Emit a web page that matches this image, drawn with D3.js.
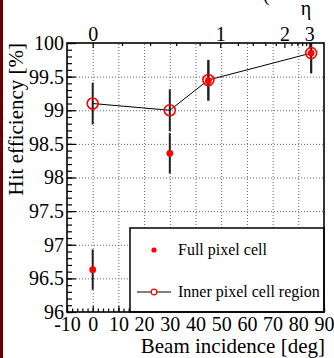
<!DOCTYPE html>
<html>
<head>
<meta charset="utf-8">
<script src="https://cdn.jsdelivr.net/npm/d3@7"></script>
<style>
  body { margin: 0; background: #fff; }
  svg { display: block; }
  text { font-family: "Liberation Serif", "Times New Roman", serif; }
</style>
</head>
<body>
<svg id="chart" width="334" height="358"></svg>
<script>
// --- data ---
const angles = [0, 30, 45, 85];                 // beam incidence [deg]
const fullCell = [96.63, 98.36, 99.44, 99.85];  // full pixel cell
const fullErr = [0.3, 0.3, 0.3, 0.3];
const innerCell = [99.1, 99.0, 99.45, 99.85];   // inner pixel cell region
const innerErr = [0.31, 0.31, 0.3, 0.3];

const xTicks = [-10, 0, 10, 20, 30, 40, 50, 60, 70, 80, 90];
const yTicks = [96, 96.5, 97, 97.5, 98, 98.5, 99, 99.5, 100];
const etaTicks = [0, 1, 2, 3];

const svg = d3.select('#chart');
const padL = 67, padR = 324, padT = 43, padB = 312;
const serif = '"Liberation Serif", "Times New Roman", serif';

const x = d3.scaleLinear().domain([-10, 90]).range([padL, padR]);
const y = d3.scaleLinear().domain([96, 100]).range([padB, padT]);

// pseudorapidity -> incidence angle (sin a = tanh eta)
const etaToAngle = e => Math.asin(Math.tanh(e)) * 180 / Math.PI;
const etaMinor = d3.range(0, 3.01, 0.2).filter(e => Math.abs(e - Math.round(e)) > 1e-6);

// dark strip on the left edge
svg.append('rect')
    .attr('x', 0).attr('y', 0)
    .attr('width', 3).attr('height', 358)
    .attr('fill', '#6b0000');

// grid
const grid = svg.append('g').attr('class', 'grid');
grid.append('g')
    .attr('transform', `translate(0,${padB})`)
    .call(d3.axisBottom(x).tickValues(xTicks.slice(1, -1)).tickSize(-(padB - padT)).tickFormat(''));
grid.append('g')
    .attr('transform', `translate(${padL},0)`)
    .call(d3.axisLeft(y).tickValues(yTicks.slice(1, -1)).tickSize(-(padR - padL)).tickFormat(''));
grid.selectAll('.domain').remove();
grid.selectAll('line')
    .attr('stroke', '#666')
    .attr('stroke-width', 1)
    .attr('stroke-dasharray', '1,2');

// axes with inward ticks
function styleAxis(g, size) {
    g.attr('font-family', serif);
    g.select('.domain').remove();
    g.selectAll('line').attr('stroke', '#000').attr('stroke-width', 1.2);
    g.selectAll('text').attr('font-size', size).attr('fill', '#000')
        .attr('font-family', serif);
}

const yMinor = d3.range(96, 100.001, 0.1);
svg.append('g')
    .attr('transform', `translate(${padL},0)`)
    .call(d3.axisLeft(y).tickValues(yMinor).tickSize(-5).tickFormat(''))
    .call(g => styleAxis(g, 20));
svg.append('g')
    .attr('transform', `translate(${padL},0)`)
    .call(d3.axisLeft(y).tickValues(yTicks).tickSize(-9).tickPadding(3).tickFormat(d => String(d)))
    .call(g => styleAxis(g, 20));

const xMinor = d3.range(-10, 90.001, 2);
const xAxisG = svg.append('g').attr('transform', `translate(0,${padB})`);
xAxisG.append('g')
    .call(d3.axisBottom(x).tickValues(xMinor).tickSize(-3.5).tickFormat(''))
    .call(g => styleAxis(g, 20));
xAxisG.append('g')
    .call(d3.axisBottom(x).tickValues(xTicks).tickSize(-6).tickPadding(5).tickFormat(d => String(d)))
    .call(g => styleAxis(g, 20));

// top eta axis
const topG = svg.append('g').attr('transform', `translate(0,${padT})`);
topG.append('g')
    .call(d3.axisTop(x).tickValues(etaMinor.map(etaToAngle)).tickSize(-3).tickFormat(''))
    .call(g => styleAxis(g, 20));
topG.append('g')
    .call(d3.axisTop(x).tickValues(etaTicks.map(etaToAngle)).tickSize(-5).tickPadding(2)
        .tickFormat((d, i) => String(etaTicks[i])))
    .call(g => styleAxis(g, 20));

// error bars
const clampY = v => y(Math.min(100, Math.max(96, v)));
const bars = svg.append('g').attr('stroke', '#222').attr('stroke-width', 2);
bars.selectAll('.eInner')
    .data(angles)
    .join('line')
    .attr('class', 'eInner')
    .attr('x1', d => x(d)).attr('x2', d => x(d))
    .attr('y1', (d, i) => clampY(innerCell[i] + innerErr[i]))
    .attr('y2', (d, i) => clampY(innerCell[i] - innerErr[i]));
bars.selectAll('.eFull')
    .data(angles)
    .join('line')
    .attr('class', 'eFull')
    .attr('x1', d => x(d)).attr('x2', d => x(d))
    .attr('y1', (d, i) => clampY(fullCell[i] + fullErr[i]))
    .attr('y2', (d, i) => clampY(fullCell[i] - fullErr[i]));

// line joining the inner-region points
const line = d3.line().x(d => x(d[0])).y(d => y(d[1]));
svg.append('path')
    .attr('d', line(angles.map((a, i) => [a, innerCell[i]])))
    .attr('fill', 'none')
    .attr('stroke', '#000')
    .attr('stroke-width', 1);

// markers
svg.append('g').selectAll('circle')
    .data(angles)
    .join('circle')
    .attr('cx', d => x(d))
    .attr('cy', (d, i) => y(fullCell[i]))
    .attr('r', 3.4)
    .attr('fill', '#ff0000');

svg.append('g').selectAll('circle')
    .data(angles)
    .join('circle')
    .attr('cx', d => x(d))
    .attr('cy', (d, i) => y(innerCell[i]))
    .attr('r', 5.5)
    .attr('fill', 'none')
    .attr('stroke', '#ff0000')
    .attr('stroke-width', 1.6);

// legend
const legend = svg.append('g');
legend.append('rect')
    .attr('x', 130).attr('y', 228)
    .attr('width', padR - 130).attr('height', padB - 228)
    .attr('fill', '#fff')
    .attr('stroke', '#000')
    .attr('stroke-width', 1.5);

const legendItems = ['Full pixel cell', 'Inner pixel cell region'];
const rowY = d3.scalePoint().domain(legendItems).range([250, 292]);

legend.append('circle')
    .attr('cx', 154).attr('cy', rowY(legendItems[0]))
    .attr('r', 2.6).attr('fill', '#ff0000');
legend.append('line')
    .attr('x1', 137).attr('x2', 171)
    .attr('y1', rowY(legendItems[1])).attr('y2', rowY(legendItems[1]))
    .attr('stroke', '#000').attr('stroke-width', 1);
legend.append('circle')
    .attr('cx', 154).attr('cy', rowY(legendItems[1]))
    .attr('r', 2.8).attr('fill', '#fff')
    .attr('stroke', '#ff0000').attr('stroke-width', 1.2);
legend.selectAll('text')
    .data(legendItems)
    .join('text')
    .attr('x', 178)
    .attr('y', d => rowY(d) + 4.5)
    .attr('font-size', 16)
    .attr('font-family', serif)
    .text(d => d);

// frame
svg.append('rect')
    .attr('x', padL).attr('y', padT)
    .attr('width', padR - padL).attr('height', padB - padT)
    .attr('fill', 'none')
    .attr('stroke', '#000')
    .attr('stroke-width', 1.6);

// titles
svg.append('text')
    .attr('x', 325).attr('y', 353)
    .attr('text-anchor', 'end')
    .attr('font-size', 21)
    .attr('font-family', serif)
    .text('Beam incidence [deg]');
svg.append('text')
    .attr('transform', `translate(23,${padT}) rotate(-90)`)
    .attr('text-anchor', 'end')
    .attr('font-size', 21)
    .attr('font-family', serif)
    .text('Hit efficiency [%]');
svg.append('text')
    .attr('x', 306).attr('y', 14.5)
    .attr('text-anchor', 'middle')
    .attr('font-size', 20)
    .attr('font-family', serif)
    .text('η');
svg.append('text')
    .attr('x', 263).attr('y', 1)
    .attr('font-size', 20)
    .attr('font-family', serif)
    .text('(');
</script>
</body>
</html>
